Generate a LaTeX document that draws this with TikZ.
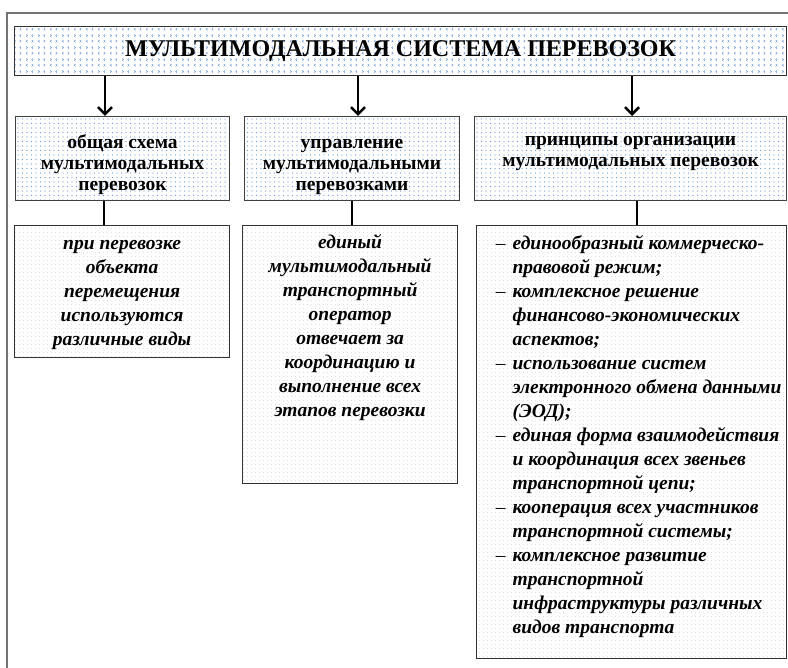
\documentclass[tikz,border=0pt]{standalone}
\usepackage{fontspec}
\setmainfont{Liberation Serif}
\usetikzlibrary{arrows.meta,patterns,patterns.meta}

\definecolor{dotblue}{RGB}{105,150,215}
\definecolor{dotgray}{RGB}{200,200,200}

% small < > marks for the title box
\tikzdeclarepattern{
  name=ticks,
  type=uncolored,
  bounding box={(0pt,0pt) and (12pt,12pt)},
  tile size={(12pt,12pt)},
  code={
    \draw[line width=.6pt] (3.8pt,1.8pt) -- (2.4pt,3pt) -- (3.8pt,4.2pt);
    \draw[line width=.6pt] (8.4pt,1.8pt) -- (9.8pt,3pt) -- (8.4pt,4.2pt);
    \draw[line width=.6pt] (2.4pt,7.8pt) -- (3.8pt,9pt) -- (2.4pt,10.2pt);
    \draw[line width=.6pt] (9.8pt,7.8pt) -- (8.4pt,9pt) -- (9.8pt,10.2pt);
  }
}

\newcommand{\itemdash}{\leavevmode\llap{\mdseries\upshape –\hspace{7pt}}}
\newcommand{\headstrut}{\rule{0pt}{26pt}}

\tikzset{
  frame/.style={draw=black!55, line width=1.2pt},
  titlebox/.style={draw=black!80, line width=1.2pt, pattern=ticks, pattern color=dotblue,
    inner sep=0pt, minimum width=772pt, minimum height=49pt, anchor=north west,
    font=\fontsize{24}{28}\selectfont\bfseries},
  headbox/.style={draw=black!75, line width=1pt, pattern={Dots[distance=4.5pt,radius=.65pt]},
    pattern color=dotblue, minimum height=84pt, anchor=north west, align=center,
    font=\fontsize{19.5}{21}\selectfont\bfseries},
  bodybox/.style={draw=black!80, line width=1.2pt, pattern={Dots[distance=4pt,radius=.5pt]},
    pattern color=dotgray, inner sep=0pt, anchor=north west,
    font=\fontsize{19.5}{24}\selectfont\bfseries\itshape},
  arr/.style={-{Straight Barb[length=7pt,width=14pt]}, line width=2.6pt},
  conn/.style={line width=2.8pt},
}

\begin{document}
\begin{tikzpicture}[x=1pt,y=-1pt]
\useasboundingbox (0,0) rectangle (788,668);
\draw[frame] (7,668) -- (7,13) -- (788,13);

\node[titlebox] (title) at (14,26) {МУЛЬТИМОДАЛЬНАЯ СИСТЕМА ПЕРЕВОЗОК};

\node[headbox, minimum width=214pt] (schema) at (15,116) {\headstrut общая схема\\мультимодальных\\перевозок};
\node[headbox, minimum width=215pt] (upr) at (244,116) {\headstrut управление\\мультимодальными\\перевозками};
\node[headbox, minimum width=312pt] (princ) at (474,116) {принципы организации\\мультимодальных перевозок\rule[-14pt]{0pt}{14pt}};

\node[bodybox] (schemaTxt) at (14,225) {\parbox[t][132pt][t]{215pt}{\centering
  \rule{0pt}{24pt}при перевозке\\объекта\\перемещения\\используются\\различные виды}};
\node[bodybox] (uprTxt) at (242,225) {\parbox[t][258pt][t]{215pt}{\centering
  \rule{0pt}{23pt}единый\\мультимодальный\\транспортный\\оператор\\отвечает за\\координацию и\\выполнение всех\\этапов перевозки}};
\node[bodybox] (princTxt) at (476,225) {\parbox[t][433pt][t]{310pt}{\raggedright\leftskip=36pt\relax
  \itemdash\rule{0pt}{24pt}единообразный коммерческо-\\правовой режим;\\
  \itemdash комплексное решение\\финансово-экономических\\аспектов;\\
  \itemdash использование систем\\электронного обмена данными\\(ЭОД);\\
  \itemdash единая форма взаимодействия\\и координация всех звеньев\\транспортной цепи;\\
  \itemdash кооперация всех участников\\транспортной системы;\\
  \itemdash комплексное развитие\\транспортной\\инфраструктуры различных\\видов транспорта}};

% arrows from the title
\coordinate (a1) at ([xshift=90pt]schema.north west);
\coordinate (a2) at ([xshift=114pt]upr.north west);
\coordinate (a3) at ([xshift=158pt]princ.north west);
\draw[arr] (title.south -| a1) -- (a1);
\draw[arr] (title.south -| a2) -- (a2);
\draw[arr] (title.south -| a3) -- (a3);

% plain links down
\coordinate (b1) at ([xshift=90pt]schemaTxt.north west);
\coordinate (b2) at ([xshift=110pt]uprTxt.north west);
\coordinate (b3) at ([xshift=161pt]princTxt.north west);
\draw[conn] (schema.south -| b1) -- (b1);
\draw[conn] (upr.south -| b2) -- (b2);
\draw[conn] (princ.south -| b3) -- (b3);
\end{tikzpicture}
\end{document}
